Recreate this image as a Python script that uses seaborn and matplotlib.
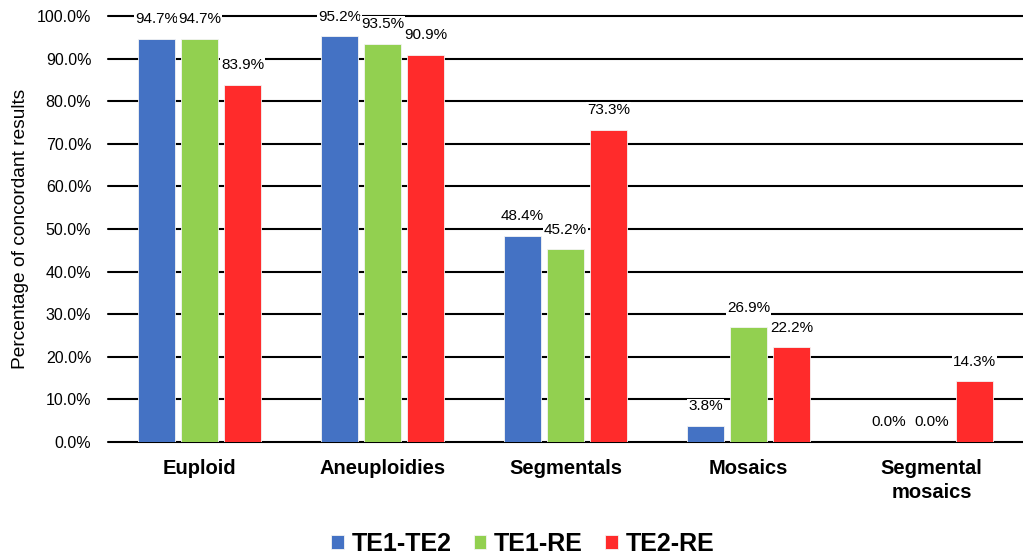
import pandas as pd
import seaborn as sns
from matplotlib import pyplot as plt

categories = ['Euploid', 'Aneuploidies', 'Segmentals', 'Mosaics', 'Segmental\nmosaics']
series = ['TE1-TE2', 'TE1-RE', 'TE2-RE']
te1_te2 = [94.7, 95.2, 48.4, 3.8, 0.0]
te1_re = [94.7, 93.5, 45.2, 26.9, 0.0]
te2_re = [83.9, 90.9, 73.3, 22.2, 14.3]
colors = ['#4472C4', '#92D050', '#FF2B2B']

df = pd.DataFrame({
    'Category': categories * 3,
    'Comparison': [s for s in series for _ in categories],
    'Value': te1_te2 + te1_re + te2_re,
})

sns.set_style('white')
plt.rcParams['font.family'] = ['Liberation Sans', 'DejaVu Sans']
plt.rcParams['text.color'] = 'black'
plt.rcParams['xtick.color'] = 'black'
plt.rcParams['ytick.color'] = 'black'
plt.rcParams['axes.labelcolor'] = 'black'

fig = plt.figure(figsize=(10.23, 5.57), dpi=100)
ax = fig.add_axes([0.1056, 0.2065, 0.8944, 0.7648])

sns.barplot(data=df, x='Category', y='Value', hue='Comparison', order=categories,
            hue_order=series, palette=colors, saturation=1, width=0.705, gap=0.16,
            edgecolor='#f4f4f4', linewidth=0.6, ax=ax, legend=True, zorder=3)

ax.set_ylim(0, 100)
ax.set_xlim(-0.5, 4.5)
ax.set_yticks(range(0, 101, 10))
ax.set_yticklabels([f'{v:.1f}%' for v in range(0, 101, 10)], fontsize=11.5)
ax.yaxis.grid(True, color='black', linewidth=1.5, zorder=0)
for gl in ax.yaxis.get_gridlines():
    gl.set_clip_on(False)
ax.set_axisbelow(True)
for s in ax.spines.values():
    s.set_visible(False)
ax.tick_params(axis='both', length=0)
ax.tick_params(axis='y', pad=12)
ax.tick_params(axis='x', pad=12)
for lbl in ax.get_xticklabels():
    lbl.set_fontsize(14.5)
    lbl.set_fontweight('bold')
    lbl.set_linespacing(1.35)
ax.set_xlabel('')
ax.set_ylabel('Percentage of concordant results', fontsize=13.8, labelpad=6)

# value labels above bars
for cont in ax.containers:
    for bar in cont:
        h = bar.get_height()
        ax.annotate(f'{h:.1f}%', (bar.get_x() + bar.get_width() / 2, h),
                    xytext=(0, 9), textcoords='offset points',
                    ha='center', va='bottom', fontsize=11,
                    bbox=dict(facecolor='white', edgecolor='none', pad=0.5), zorder=4)

handles, labels = ax.get_legend_handles_labels()
ax.legend(handles, labels, loc='center', bbox_to_anchor=(0.511, 0.024),
          bbox_transform=fig.transFigure,
          ncol=3, frameon=False, handlelength=0.5, handleheight=0.5,
          columnspacing=0.9, handletextpad=0.3,
          prop={'weight': 'bold', 'size': 18})

fig.savefig('out.png', dpi=100)
